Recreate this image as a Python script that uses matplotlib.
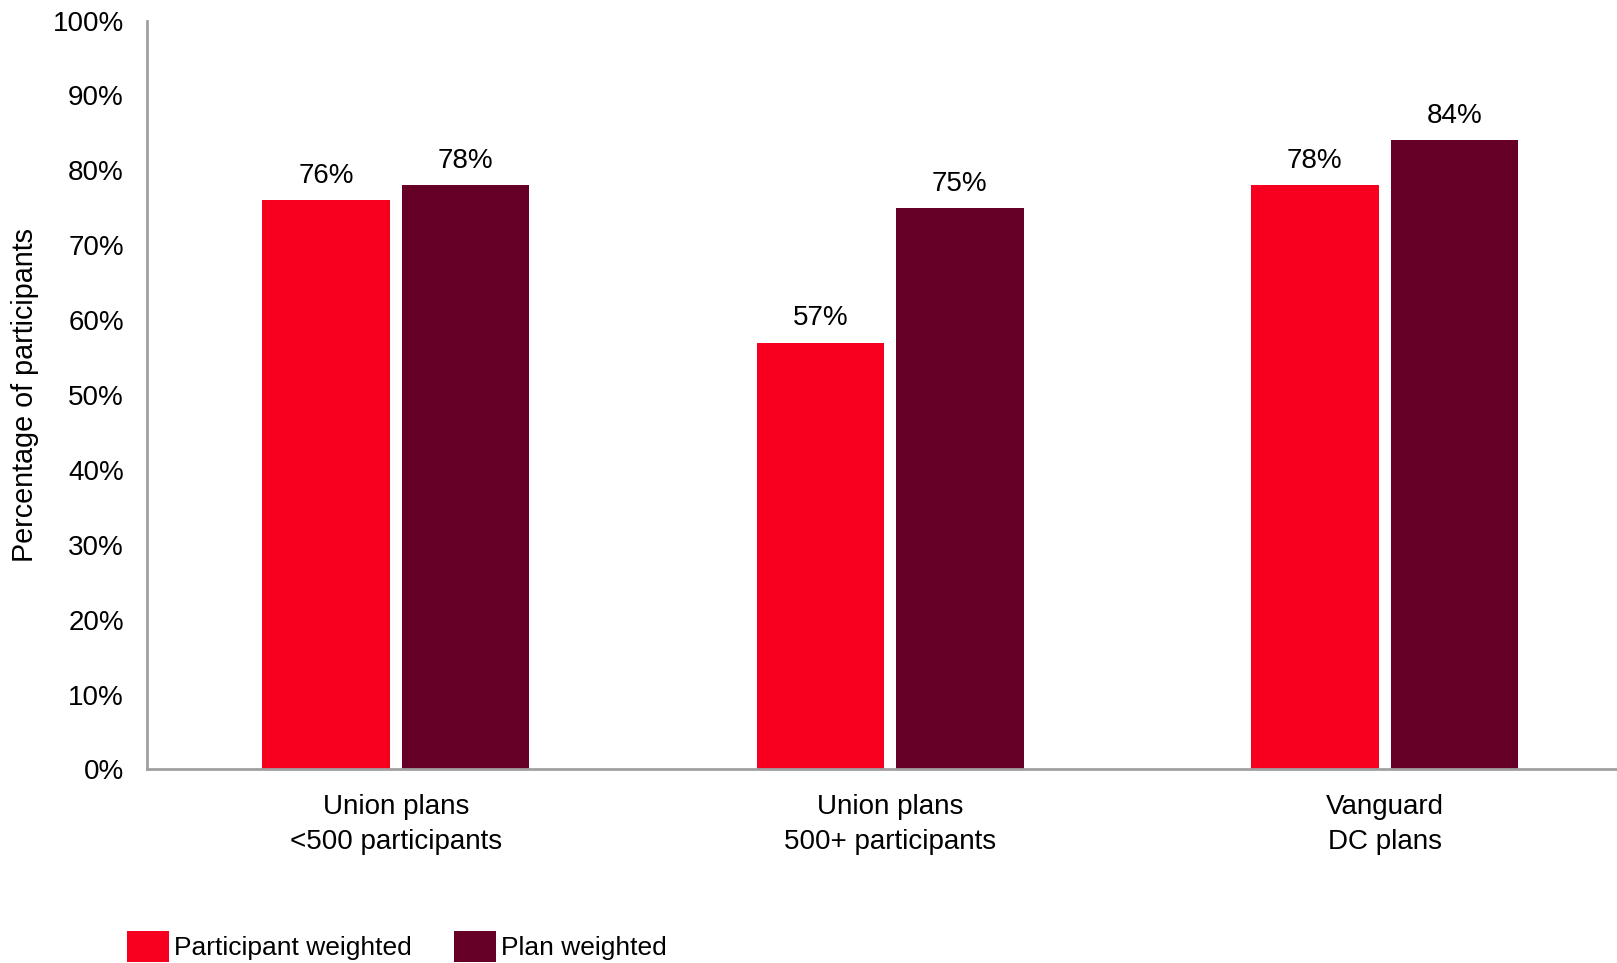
import numpy as np
import matplotlib.pyplot as plt
from matplotlib.patches import Patch

plt.rcParams['font.family'] = ['Liberation Sans', 'DejaVu Sans']

categories = ['Union plans\n<500 participants', 'Union plans\n500+ participants', 'Vanguard\nDC plans']
participant_weighted = [76, 57, 78]
plan_weighted = [78, 75, 84]
series_names = ['Participant weighted', 'Plan weighted']

red = '#F7001F'
maroon = '#660027'
axis_grey = '#A0A0A0'

fig = plt.figure(figsize=(16.17, 9.63), dpi=100)
ax = fig.add_axes([0.0912, 0.201, 0.9088, 0.7776])

x = np.arange(len(categories))
w = 0.258
off = 0.141
b1 = ax.bar(x - off, participant_weighted, w, color=red)
b2 = ax.bar(x + off, plan_weighted, w, color=maroon)

for bars, vals in ((b1, participant_weighted), (b2, plan_weighted)):
    for bar, v in zip(bars, vals):
        ax.annotate(f'{v}%', (bar.get_x() + bar.get_width() / 2, v),
                    xytext=(0, 8), textcoords='offset points',
                    ha='center', va='bottom', fontsize=20)

ax.set_xlim(-0.502, 2.47)
ax.set_ylim(0, 100)
ax.set_yticks(np.arange(0, 101, 10))
ax.set_yticklabels([f'{t}%' for t in range(0, 101, 10)])
ax.set_xticks(x)
ax.set_xticklabels(categories, linespacing=1.45)
ax.tick_params(axis='y', length=0, pad=17, labelsize=20)
ax.tick_params(axis='x', length=0, pad=18, labelsize=20)

for side in ('top', 'right'):
    ax.spines[side].set_visible(False)
for side in ('left', 'bottom'):
    ax.spines[side].set_color(axis_grey)
    ax.spines[side].set_linewidth(2)

ax.set_ylabel('Percentage of participants', fontsize=20.7)
ax.yaxis.set_label_coords(-0.0738, 0.5)

handles = [Patch(facecolor=red), Patch(facecolor=maroon)]
fig.legend(handles, series_names, loc='center left', bbox_to_anchor=(0.0785, 0.017),
           ncol=2, frameon=False, fontsize=19, borderpad=0, borderaxespad=0,
           handlelength=1.6, handleheight=1.4, handletextpad=0.18, columnspacing=1.6)

fig.savefig('out.png', dpi=100)
